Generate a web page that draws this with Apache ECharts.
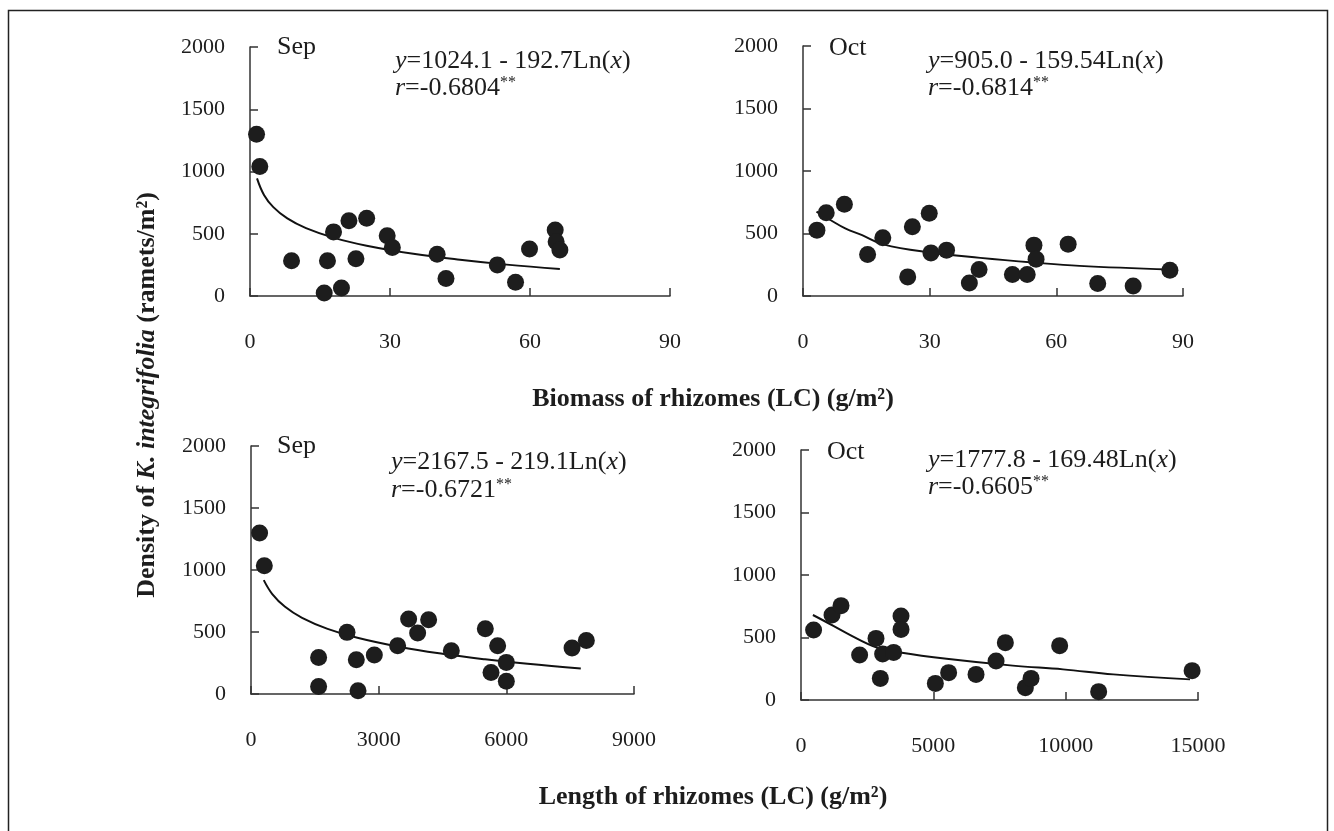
<!DOCTYPE html>
<html>
<head>
<meta charset="utf-8">
<script src="https://cdn.jsdelivr.net/npm/echarts@6/dist/echarts.min.js"></script>
<style>
html,body{margin:0;padding:0;background:#fff;}
#chart{width:1334px;height:831px;}
</style>
</head>
<body>
<div id="chart"></div>
<script>
// ---- Data ----
const yTicks = [0, 500, 1000, 1500, 2000];
const biomassTicks = [0, 30, 60, 90];
const lengthSepTicks = [0, 3000, 6000, 9000];
const lengthOctTicks = [0, 5000, 10000, 15000];

// Sep, biomass
const sepBiomassX = [1.4, 2.1, 8.9, 16.6, 15.9, 19.6, 17.9, 21.2, 25.0, 22.7, 29.4, 30.5, 40.1, 42.0, 53.0, 56.9, 59.9, 65.4, 65.6, 66.4];
const sepBiomassY = [1300, 1040, 284, 284, 25, 65, 515, 605, 625, 300, 484, 390, 335, 140, 250, 110, 377, 530, 436, 369];
const sepBiomassFitX = [1.5, 3, 5, 8, 12, 18, 25, 35, 45, 55, 66.4];
const sepBiomassFitY = [945, 812, 714, 623, 545, 467, 404, 339, 291, 252, 216];

// Oct, biomass
const octBiomassX = [3.3, 5.5, 9.8, 15.3, 18.9, 24.8, 25.9, 29.9, 30.3, 34.0, 39.4, 41.7, 49.6, 53.1, 54.7, 55.2, 62.8, 69.8, 78.2, 86.9];
const octBiomassY = [527, 666, 734, 332, 466, 153, 554, 662, 345, 367, 104, 212, 172, 172, 407, 295, 415, 100, 80, 206];
const octBiomassFitX = [3.2, 6.5, 10, 14, 19, 30, 42, 54.5, 65.5, 86.9];
const octBiomassFitY = [675, 608, 541, 487, 413, 348, 305, 268, 241, 212];

// Sep, length
const sepLengthX = [202, 313, 1589, 1589, 2256, 2475, 2515, 2898, 3446, 3704, 3916, 4174, 4707, 5506, 5796, 5640, 6000, 6000, 7544, 7880];
const sepLengthY = [1298, 1035, 295, 61, 497, 277, 27, 315, 390, 605, 492, 599, 349, 527, 390, 174, 255, 102, 371, 432];
const sepLengthFitX = [300, 500, 800, 1200, 1800, 2500, 3500, 4500, 5500, 6500, 7750];
const sepLengthFitY = [918, 806, 703, 614, 525, 453, 379, 324, 280, 243, 205];

// Oct, length
const octLengthX = [476, 1172, 1512, 2215, 2834, 3084, 2997, 3500, 3779, 3779, 5076, 5578, 6614, 7370, 7721, 8477, 8692, 9773, 11247, 14777];
const octLengthY = [560, 680, 755, 360, 493, 368, 173, 381, 672, 565, 133, 219, 205, 312, 459, 99, 173, 435, 67, 235];
const octLengthFitX = [450, 900, 1740, 2870, 3750, 5500, 8000, 9900, 11800, 14700];
const octLengthFitY = [680, 630, 533, 419, 380, 330, 275, 245, 205, 165];

const panelLabels = ['Sep', 'Oct', 'Sep', 'Oct'];
const eqA = ['1024.1', '905.0', '2167.5', '1777.8'];
const eqB = ['192.7', '159.54', '219.1', '169.48'];
const rVals = ['-0.6804', '-0.6814', '-0.6721', '-0.6605'];
const xTitles = ['Biomass of rhizomes (LC) (g/m²)', 'Length of rhizomes (LC) (g/m²)'];

// ---- Build ----
const FONT = '"Liberation Serif", "DejaVu Serif", serif';
const INK = '#1d1d1d';
const zip = (a, b) => a.map((v, i) => [v, b[i]]);
const plain = v => String(v);

const grids = [
  {left: 250, top: 47, width: 420, height: 249},
  {left: 803, top: 46, width: 380, height: 250},
  {left: 251, top: 446, width: 383, height: 248},
  {left: 801, top: 450, width: 397, height: 250}
];
const xMaxes = [biomassTicks[3], biomassTicks[3], lengthSepTicks[3], lengthOctTicks[3]];
const xIntervals = [biomassTicks[1], biomassTicks[1], lengthSepTicks[1], lengthOctTicks[1]];

const axisLineStyle = {color: '#333', width: 1.5};
const xAxes = grids.map((g, i) => ({
  type: 'value', gridIndex: i, min: 0, max: xMaxes[i], interval: xIntervals[i],
  axisLine: {show: true, onZero: false, lineStyle: axisLineStyle},
  axisTick: {show: true, inside: true, length: 8, lineStyle: axisLineStyle},
  splitLine: {show: false},
  axisLabel: {color: INK, fontFamily: FONT, fontSize: 22, margin: 35, formatter: plain}
}));
const yAxes = grids.map((g, i) => ({
  type: 'value', gridIndex: i, min: yTicks[0], max: yTicks[4], interval: yTicks[1],
  axisLine: {show: true, onZero: false, lineStyle: axisLineStyle},
  axisTick: {show: true, inside: true, length: 8, lineStyle: axisLineStyle},
  splitLine: {show: false},
  axisLabel: {color: INK, fontFamily: FONT, fontSize: 22, margin: 25, formatter: plain}
}));

const scatterSets = [
  zip(sepBiomassX, sepBiomassY), zip(octBiomassX, octBiomassY),
  zip(sepLengthX, sepLengthY), zip(octLengthX, octLengthY)
];
const fitSets = [
  zip(sepBiomassFitX, sepBiomassFitY), zip(octBiomassFitX, octBiomassFitY),
  zip(sepLengthFitX, sepLengthFitY), zip(octLengthFitX, octLengthFitY)
];

const series = [];
for (let i = 0; i < 4; i++) {
  series.push({
    type: 'line', xAxisIndex: i, yAxisIndex: i, data: fitSets[i], smooth: 0.4,
    showSymbol: false, lineStyle: {color: '#111', width: 2}, z: 2, silent: true
  });
  series.push({
    type: 'scatter', xAxisIndex: i, yAxisIndex: i, data: scatterSets[i],
    symbol: 'circle', symbolSize: 17, itemStyle: {color: INK, opacity: 1}, z: 3
  });
}

// text positions per panel
const labelPos = [[277, 47], [829, 48], [277, 446], [827, 452]];
const eqPos = [[395, 61, 88], [928, 61, 88], [391, 462, 490], [928, 460, 487]];

const richStyles = {
  it: {fontFamily: FONT, fontSize: 26, fontStyle: 'italic', fill: INK},
  n: {fontFamily: FONT, fontSize: 26, fill: INK},
  sup: {fontFamily: FONT, fontSize: 16, fill: INK, verticalAlign: 'top', padding: [0, 0, 8, 0]}
};

const graphics = [
  {type: 'rect', shape: {x: 8.5, y: 10.5, width: 1319, height: 840},
   style: {fill: 'none', stroke: '#222', lineWidth: 1.5}, silent: true}
];
for (let i = 0; i < 4; i++) {
  graphics.push({type: 'text', x: labelPos[i][0], y: labelPos[i][1],
    style: {text: panelLabels[i], font: '26px ' + FONT, fill: INK, textAlign: 'left', textVerticalAlign: 'middle'}});
  graphics.push({type: 'text', x: eqPos[i][0], y: eqPos[i][1],
    style: {text: '{it|y}{n|=' + eqA[i] + ' - ' + eqB[i] + 'Ln(}{it|x}{n|)}', rich: richStyles,
      font: '26px ' + FONT, fill: INK, textAlign: 'left', textVerticalAlign: 'middle'}});
  graphics.push({type: 'text', x: eqPos[i][0], y: eqPos[i][2],
    style: {text: '{it|r}{n|=' + rVals[i] + '}{sup|**}', rich: richStyles,
      font: '26px ' + FONT, fill: INK, textAlign: 'left', textVerticalAlign: 'middle'}});
}
graphics.push({type: 'text', x: 713, y: 399,
  style: {text: xTitles[0], font: 'bold 26px ' + FONT, fill: INK, textAlign: 'center', textVerticalAlign: 'middle'}});
graphics.push({type: 'text', x: 713, y: 797,
  style: {text: xTitles[1], font: 'bold 26px ' + FONT, fill: INK, textAlign: 'center', textVerticalAlign: 'middle'}});
graphics.push({type: 'text', x: 147, y: 395, rotation: Math.PI / 2,
  style: {text: '{b|Density of }{bi|K. integrifolia}{b| (ramets/m²)}',
    rich: {
      b: {fontFamily: FONT, fontSize: 26, fontWeight: 'bold', fill: INK},
      bi: {fontFamily: FONT, fontSize: 26, fontWeight: 'bold', fontStyle: 'italic', fill: INK}
    },
    font: 'bold 26px ' + FONT, fill: INK, textAlign: 'center', textVerticalAlign: 'middle'}});

const chart = echarts.init(document.getElementById('chart'), null, {renderer: 'canvas'});
chart.setOption({
  animation: false,
  backgroundColor: '#fff',
  grid: grids,
  xAxis: xAxes,
  yAxis: yAxes,
  series: series,
  graphic: graphics
});
</script>
</body>
</html>
